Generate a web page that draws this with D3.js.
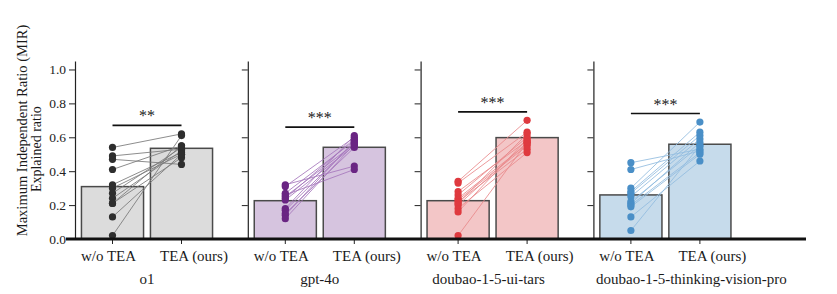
<!DOCTYPE html>
<html>
<head>
<meta charset="utf-8">
<script src="https://cdn.jsdelivr.net/npm/d3@7"></script>
<style>
  body { margin: 0; background: #fff; }
</style>
</head>
<body>
<svg width="837" height="294"></svg>
<script>
'use strict';

// data
const models = ["o1", "gpt-4o", "doubao-1-5-ui-tars", "doubao-1-5-thinking-vision-pro"];
const conditions = ["w/o TEA", "TEA (ours)"];
const yTicks = [0, 0.2, 0.4, 0.6, 0.8, 1.0];
const sigLabels = ["**", "***", "***", "***"];

const barWithout = [0.309, 0.226, 0.226, 0.26];
const barWith = [0.535, 0.541, 0.598, 0.559];

const o1Before = [0.54, 0.49, 0.47, 0.41, 0.32, 0.30, 0.27, 0.24, 0.21, 0.21, 0.13, 0.02];
const o1After = [0.62, 0.53, 0.44, 0.55, 0.51, 0.50, 0.54, 0.52, 0.48, 0.55, 0.50, 0.61];
const gptBefore = [0.32, 0.31, 0.27, 0.26, 0.25, 0.24, 0.23, 0.18, 0.17, 0.15, 0.14, 0.12];
const gptAfter = [0.43, 0.60, 0.58, 0.41, 0.56, 0.59, 0.55, 0.61, 0.57, 0.54, 0.58, 0.56];
const tarsBefore = [0.34, 0.33, 0.28, 0.26, 0.24, 0.23, 0.22, 0.21, 0.20, 0.18, 0.16, 0.02];
const tarsAfter = [0.70, 0.63, 0.58, 0.60, 0.56, 0.55, 0.53, 0.62, 0.57, 0.51, 0.59, 0.57];
const thinkBefore = [0.45, 0.41, 0.30, 0.28, 0.27, 0.25, 0.22, 0.21, 0.20, 0.19, 0.13, 0.05];
const thinkAfter = [0.53, 0.52, 0.69, 0.63, 0.61, 0.59, 0.55, 0.57, 0.51, 0.50, 0.46, 0.55];

const beforeSets = [o1Before, gptBefore, tarsBefore, thinkBefore];
const afterSets = [o1After, gptAfter, tarsAfter, thinkAfter];

const barFill = ["#dcdcdc", "#d6c4df", "#f3c6c7", "#c6dbeb"];
const dotColor = ["#2e2e2e", "#6a2583", "#df3a3f", "#4a8fc7"];
const pairColor = ["#7a7a7a", "#a778bd", "#ea8a8c", "#93bde0"];

const serif = '"Liberation Serif", "Times New Roman", Times, "DejaVu Serif", serif';

const svg = d3.select("svg")
    .attr("font-family", serif);

const y = d3.scaleLinear().domain([0, 1.05]).range([239, 61]);

const panelX = d3.scaleBand()
    .domain(models)
    .range([75, 75 + 4 * 172.8]);

const inner = d3.scaleBand()
    .domain(conditions)
    .range([3, 141])
    .paddingInner(0.1)
    .paddingOuter(0.05);
const cx = c => inner(c) + inner.bandwidth() / 2;

// label offsets seen under the bars
const labelShift = [-4, 12.5];
const titleShift = [0, 0, -4, 26];

function addText(sel) {
    return sel.append("text")
        .attr("font-family", serif)
        .attr("fill", "#1a1a1a");
}

models.forEach((m, i) => {
    const g = svg.append("g")
        .attr("transform", `translate(${panelX(m)},0)`);

    // y axis
    const ax = g.append("g")
        .call(d3.axisLeft(y)
            .tickValues(yTicks)
            .tickSize(6)
            .tickSizeOuter(0)
            .tickFormat(i === 0 ? d3.format(".1f") : ""));
    ax.attr("font-family", serif).attr("font-size", 13.5);
    ax.select(".domain").attr("stroke", "#222").attr("stroke-width", 1.2);
    ax.selectAll(".tick line").attr("stroke", "#222");
    ax.selectAll(".tick text")
        .attr("x", -9)
        .attr("fill", "#222");

    const vals = [barWithout[i], barWith[i]];
    g.selectAll("rect.bar")
        .data(conditions)
        .join("rect")
        .attr("class", "bar")
        .attr("x", c => inner(c))
        .attr("width", inner.bandwidth())
        .attr("y", (c, k) => y(vals[k]))
        .attr("height", (c, k) => y(0) - y(vals[k]))
        .attr("fill", barFill[i])
        .attr("stroke", "#4a4a4a")
        .attr("stroke-width", 1.5);

    const before = beforeSets[i];
    const after = afterSets[i];
    const pairs = before.map((b, k) => [b, after[k]]);

    g.selectAll("line.pair")
        .data(pairs)
        .join("line")
        .attr("class", "pair")
        .attr("x1", cx(conditions[0]))
        .attr("x2", cx(conditions[1]))
        .attr("y1", d => y(d[0]))
        .attr("y2", d => y(d[1]))
        .attr("stroke", pairColor[i])
        .attr("stroke-width", 1)
        .attr("opacity", 0.85);

    [before, after].forEach((set, k) => {
        g.selectAll(`circle.c${k}`)
            .data(set)
            .join("circle")
            .attr("class", `c${k}`)
            .attr("cx", cx(conditions[k]))
            .attr("cy", d => y(d))
            .attr("r", 3.6)
            .attr("fill", dotColor[i]);
    });

    // significance bracket
    const top = d3.max(before.concat(after)) + 0.05;
    g.append("line")
        .attr("x1", cx(conditions[0]))
        .attr("x2", cx(conditions[1]))
        .attr("y1", y(top))
        .attr("y2", y(top))
        .attr("stroke", "#111")
        .attr("stroke-width", 1.6);
    addText(g)
        .attr("x", (cx(conditions[0]) + cx(conditions[1])) / 2)
        .attr("y", y(top) - 4)
        .attr("text-anchor", "middle")
        .attr("font-size", 16)
        .text(sigLabels[i]);

    // small ticks under the bars
    g.selectAll("line.xt")
        .data(conditions)
        .join("line")
        .attr("class", "xt")
        .attr("x1", c => cx(c))
        .attr("x2", c => cx(c))
        .attr("y1", y(0))
        .attr("y2", y(0) + 5)
        .attr("stroke", "#222");

    conditions.forEach((c, k) => {
        addText(g)
            .attr("x", cx(c) + labelShift[k])
            .attr("y", 261)
            .attr("text-anchor", "middle")
            .attr("font-size", 15)
            .text(c);
    });

    addText(g)
        .attr("x", 72 + titleShift[i])
        .attr("y", 284)
        .attr("text-anchor", "middle")
        .attr("font-size", 15)
        .text(m);
});

// thick baseline across all panels
svg.append("line")
    .attr("x1", panelX.range()[0] - 9)
    .attr("x2", 806)
    .attr("y1", y(0))
    .attr("y2", y(0))
    .attr("stroke", "#111")
    .attr("stroke-width", 3);

addText(svg)
    .attr("transform", `translate(27,${y(0.64)}) rotate(-90)`)
    .attr("text-anchor", "middle")
    .attr("font-size", 14.5)
    .text("Maximum Independent Ratio (MIR)");

addText(svg)
    .attr("transform", `translate(41,${y(0.53)}) rotate(-90)`)
    .attr("text-anchor", "middle")
    .attr("font-size", 14)
    .text("Explained ratio");
</script>
</body>
</html>
